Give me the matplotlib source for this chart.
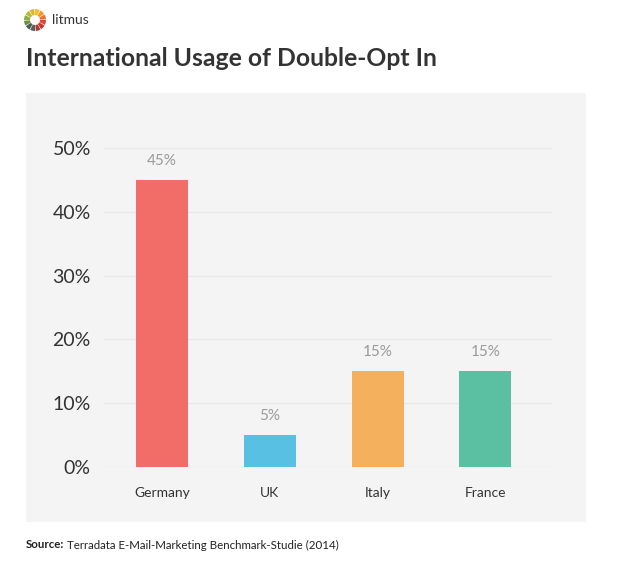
import matplotlib
matplotlib.use('Agg')

import matplotlib.pyplot as plt
from matplotlib.patches import Rectangle, Wedge

# Data
countries = ["Germany", "UK", "Italy", "France"]
usage = [45, 5, 15, 15]
bar_colors = ["#f26d68", "#57c0e3", "#f4b05d", "#5bbfa2"]
yticks = [0, 10, 20, 30, 40, 50]

plt.rcParams['font.family'] = ['Lato', 'DejaVu Sans']

W, H = 620, 569
fig = plt.figure(figsize=(W / 100, H / 100), dpi=100)
fig.patch.set_facecolor("white")

# grey panel behind the chart
fig.patches.append(Rectangle((26 / W, 1 - 522 / H), 560 / W, 429 / H,
                             transform=fig.transFigure, facecolor="#f4f4f4",
                             edgecolor="none", zorder=-10))

# axes placed in pixel terms
ax = fig.add_axes([104 / W, 1 - 467 / H, 448 / W, 319 / H])
ax.set_facecolor("none")

x = range(len(countries))
ax.bar(x, usage, width=0.483, color=bar_colors, zorder=3)
for i, v in enumerate(usage):
    ax.text(i, v + 1.9, f"{v}%", ha="center", va="bottom",
            fontsize=11, color="#9a9a9a")

ax.set_xlim(-0.54, 3.62)
ax.set_ylim(0, 50)
ax.set_yticks(yticks)
ax.set_yticklabels([f"{t}%" for t in yticks], fontsize=14, color="#333333")
ax.set_xticks(list(x))
ax.set_xticklabels(countries, fontsize=10, color="#333333")
ax.tick_params(axis="y", length=0, pad=9.5)
ax.tick_params(axis="x", length=0, pad=14.5)
ax.grid(axis="y", color="#e9e9e9", linewidth=1, zorder=1)
for s in ax.spines.values():
    s.set_visible(False)

# title
fig.text(26 / W, 1 - 58 / H, "International Usage of Double-Opt In",
         fontsize=17.8, fontweight="bold", color="#333333", va="center")

# source
src = fig.text(26 / W, 1 - 545 / H, "Source:", fontsize=8.3, fontweight="bold",
               color="#222222", va="center")
fig.canvas.draw()
bb = src.get_window_extent()
fig.text((bb.x1 + 3) / W, 1 - 545 / H,
         "Terradata E-Mail-Marketing Benchmark-Studie (2014)",
         fontsize=8.3, color="#222222", va="center")

# litmus logo
logo_ax = fig.add_axes([24 / W, 1 - 31 / H, 22 / W, 22 / H])
logo_ax.set_xlim(-1, 1)
logo_ax.set_ylim(-1, 1)
logo_ax.set_aspect("equal")
logo_ax.axis("off")
seg_colors = ["#f7c02c", "#f59a23", "#ee6f2d", "#e0452f", "#c9342c", "#a83a34",
              "#5d5d5d", "#4a5d52", "#6b8f3f", "#8fae3d", "#b7b93a", "#d9b733"]
n = len(seg_colors)
for k, c in enumerate(seg_colors):
    t1 = 90 - k * 360 / n
    logo_ax.add_patch(Wedge((0, 0), 1, t1 - 360 / n + 4, t1, width=0.55,
                            facecolor=c, edgecolor="none"))
fig.text(52 / W, 1 - 20 / H, "litmus", fontsize=10, color="#333333", va="center")

fig.savefig("out.png", dpi=100)
